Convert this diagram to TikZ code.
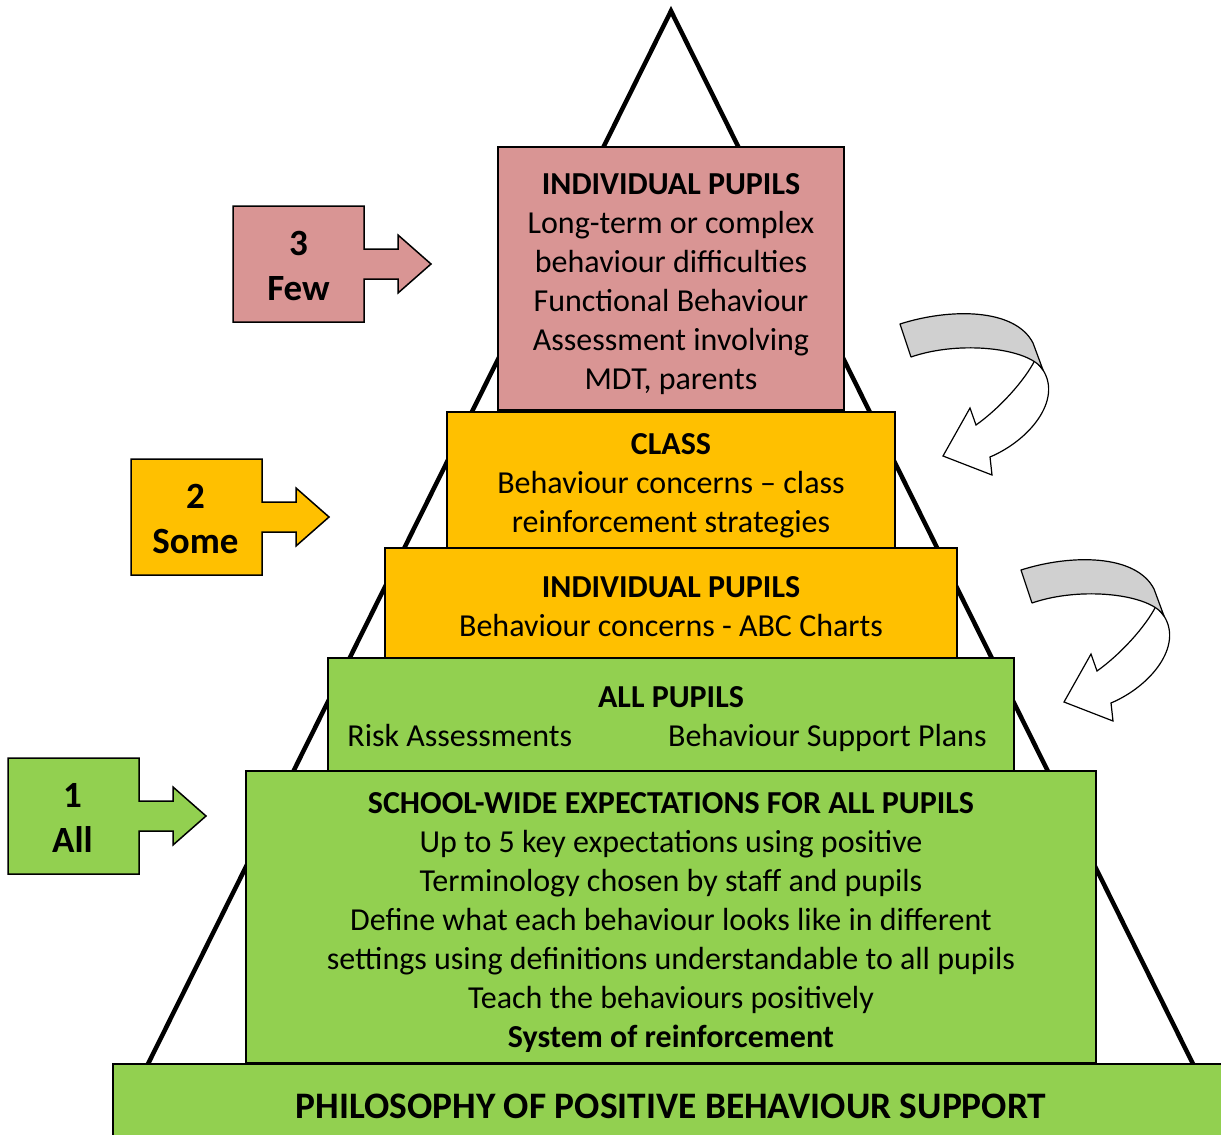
\documentclass[tikz,border=0pt]{standalone}
\usepackage{fontspec}
\setmainfont{Carlito}
\definecolor{pinkc}{HTML}{D99594}
\definecolor{yellc}{HTML}{FFC000}
\definecolor{grnc}{HTML}{92D050}
\definecolor{grayc}{HTML}{D0D0D0}
\tikzset{
  tier/.style={draw=black, line width=1.5pt, inner sep=0pt},
  tiertext/.style={inner sep=0pt, align=center, text=black, font=\fontsize{32}{39}\selectfont},
  numlabel/.style={inner sep=0pt, align=center, font=\fontsize{37}{45}\selectfont\bfseries},
  pics/blockarrow/.style={code={
    \draw[line width=1.5pt, fill=#1, line join=miter] (0,0) -- (131,0) -- (131,43) -- (165,43) -- (165,29)
      -- (198,58) -- (165,87) -- (165,73) -- (131,73) -- (131,116) -- (0,116) -- cycle;}},
  pics/curvedarrow/.style={code={
    \draw[line width=1.2pt, fill=white, line join=miter] (145,60) .. controls (135,80) and (110,108) .. (86,125)
      -- (80,108) -- (53,156) -- (102,175) -- (100,157) .. controls (140,140) and (172,100) .. (153,70) -- cycle;
    \draw[line width=1.2pt, fill=grayc, line join=round] (10,24) .. controls (60,8) and (125,8) .. (143,43)
      -- (153,70) .. controls (140,48) and (70,40) .. (21,57) -- cycle;}}
}
\begin{document}
\begin{tikzpicture}[x=1pt,y=-1pt]
\clip (0,0) rectangle (1221,1135);
\fill[white] (0,0) rectangle (1221,1135);
% pyramid outline
\coordinate (apex) at (671,11);
\coordinate (bl) at (148,1064);
\coordinate (br) at (1193,1064);
\draw[line width=4.5pt, line join=miter] (bl) -- (apex) -- (br);
% tiers
\node[tier, fill=pinkc, minimum width=346pt, minimum height=263pt] (few) at (671,278.5) {};
\node[tiertext] (fewt) at ([yshift=-5.5pt]few.center)
  {\textbf{INDIVIDUAL PUPILS}\\Long-term or complex\\behaviour difficulties\\Functional Behaviour\\Assessment involving\\MDT, parents};
\node[tier, fill=yellc, minimum width=448pt, minimum height=136pt] (class) at (671,480) {};
\node[tiertext] (classt) at ([yshift=-6pt]class.center)
  {\textbf{CLASS}\\Behaviour concerns – class\\reinforcement strategies};
\node[tier, fill=yellc, minimum width=572pt, minimum height=110pt] (indiv) at (671,603) {};
\node[tiertext] (indivt) at ([yshift=-4pt]indiv.center)
  {\textbf{INDIVIDUAL PUPILS}\\Behaviour concerns - ABC Charts};
\node[tier, fill=grnc, minimum width=686pt, minimum height=113pt] (allp) at (671,714.5) {};
\node[tiertext] (allpt) at ([yshift=-4.5pt]allp.center)
  {\textbf{ALL PUPILS}\\Risk Assessments\hspace{96pt}Behaviour Support Plans\hspace*{8pt}};
\node[tier, fill=grnc, minimum width=850pt, minimum height=292pt] (school) at (671,917) {};
\node[tiertext] (schoolt) at ([yshift=-6pt]school.center)
  {\textbf{SCHOOL-WIDE EXPECTATIONS FOR ALL PUPILS}\\Up to 5 key expectations using positive\\Terminology chosen by staff and pupils\\Define what each behaviour looks like in different\\settings using definitions understandable to all pupils\\Teach the behaviours positively\\\textbf{System of reinforcement}};
\node[tier, fill=grnc, minimum width=1116pt, minimum height=86pt] (philo) at (671,1107) {};
\node[tiertext, font=\fontsize{37.4}{45}\selectfont\bfseries] (philot) at ([yshift=1pt]philo.center)
  {PHILOSOPHY OF POSITIVE BEHAVIOUR SUPPORT};
% side block arrows
\pic at (233,206) {blockarrow=pinkc};
\pic at (131,459) {blockarrow=yellc};
\pic at (8,758) {blockarrow=grnc};
\node[numlabel] (n3) at (298.5,266) {3\\Few};
\node[numlabel] (n2) at (195.5,519) {2\\Some};
\node[numlabel] (n1) at (72.5,818) {1\\All};
% curved arrows
\pic at (890,300) {curvedarrow};
\pic at (1011,546) {curvedarrow};
\end{tikzpicture}
\end{document}
